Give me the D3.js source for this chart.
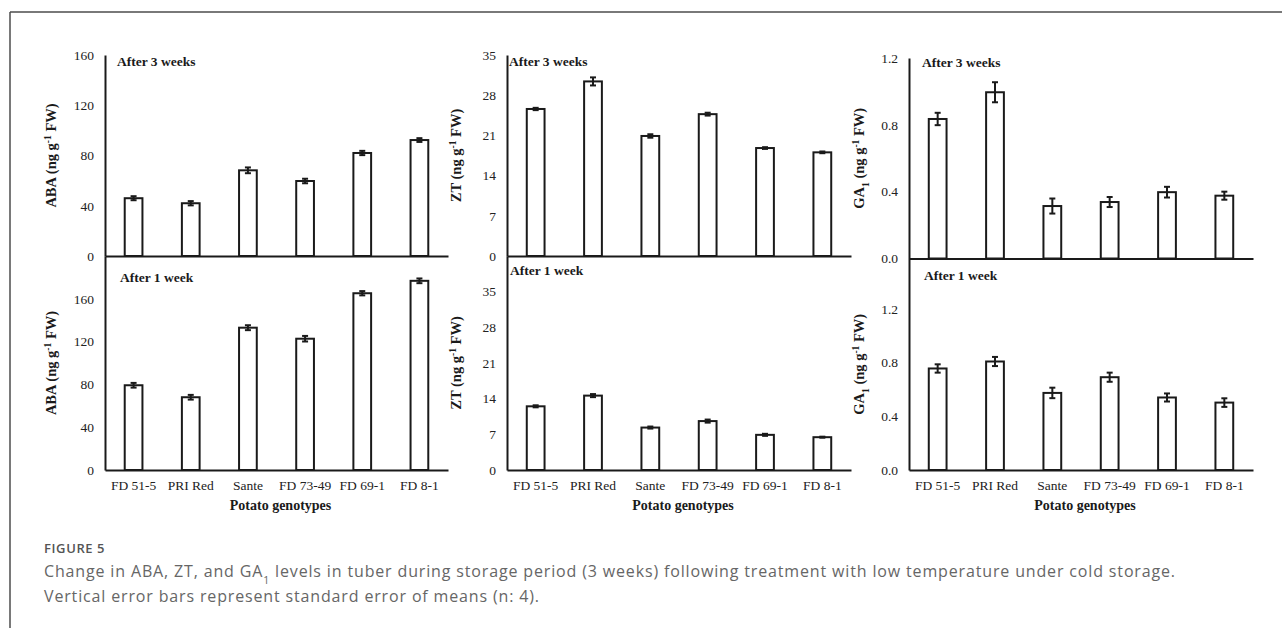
<!DOCTYPE html>
<html>
<head>
<meta charset="utf-8">
<script src="https://cdn.jsdelivr.net/npm/d3@7/dist/d3.min.js"></script>
<style>
  html, body { margin: 0; padding: 0; background: #fff; }
  svg { display: block; }
</style>
</head>
<body>
<svg id="chart" width="1282" height="628"></svg>
<script>
// ---------------- DATA ----------------
const genotypes = ["FD 51-5", "PRI Red", "Sante", "FD 73-49", "FD 69-1", "FD 8-1"];

const abaWeek3 = [46, 42, 68.2, 59.7, 82, 92.3];
const abaWeek3Err = [1.6, 1.7, 2.3, 1.8, 1.7, 1.5];
const abaWeek1 = [79.2, 68, 133, 122.7, 165.2, 176.8];
const abaWeek1Err = [2.2, 2.2, 2.3, 2.6, 2.0, 2.2];

const ztWeek3 = [25.6, 30.4, 20.9, 24.7, 18.8, 18.05];
const ztWeek3Err = [0.2, 0.7, 0.3, 0.25, 0.15, 0.15];
const ztWeek1 = [12.5, 14.6, 8.33, 9.6, 6.9, 6.44];
const ztWeek1Err = [0.2, 0.3, 0.2, 0.3, 0.2, 0.1];

const ga1Week3 = [0.835, 0.995, 0.314, 0.338, 0.397, 0.376];
const ga1Week3Err = [0.037, 0.06, 0.045, 0.03, 0.032, 0.024];
const ga1Week1 = [0.756, 0.808, 0.574, 0.691, 0.54, 0.502];
const ga1Week1Err = [0.031, 0.034, 0.039, 0.034, 0.03, 0.032];

const abaTicks = [0, 40, 80, 120, 160];
const ztTicks = [0, 7, 14, 21, 28, 35];
const ga1Ticks = [0, 0.4, 0.8, 1.2];
const abaMaxTop = 160, abaMaxBottom = 200;
const ztMaxTop = 35, ztMaxBottom = 42;
const ga1MaxTop = 1.2, ga1MaxBottom = 1.575;

const periodLabels = ["After 3 weeks", "After 1 week"];
const xAxisTitle = "Potato genotypes";

// ---------------- LAYOUT ----------------
const svg = d3.select("#chart");
const serif = "'Liberation Serif', 'Times New Roman', serif";
const ink = "#1a1a1a";

// frame
svg.append("line").attr("x1", 10).attr("x2", 1282).attr("y1", 12).attr("y2", 12)
  .attr("stroke", "#4d4d4d").attr("stroke-width", 1.5);
svg.append("line").attr("x1", 10).attr("x2", 10).attr("y1", 12).attr("y2", 628)
  .attr("stroke", "#4d4d4d").attr("stroke-width", 1.5);

const panels = [
  { name: "ABA", sub: false, x0: 105, x1: 448, top: 55, mid: 256, bottom: 470,
    top3: abaWeek3, top3Err: abaWeek3Err, bot1: abaWeek1, bot1Err: abaWeek1Err,
    ticks: abaTicks, maxTop: abaMaxTop, maxBottom: abaMaxBottom, fmt: d3.format("d"),
    labelX: 56, tagX: [117, 120], tagY: [66, 282] },
  { name: "ZT", sub: false, x0: 507, x1: 851, top: 55, mid: 256, bottom: 470,
    top3: ztWeek3, top3Err: ztWeek3Err, bot1: ztWeek1, bot1Err: ztWeek1Err,
    ticks: ztTicks, maxTop: ztMaxTop, maxBottom: ztMaxBottom, fmt: d3.format("d"),
    labelX: 461, tagX: [509, 510], tagY: [66, 275] },
  { name: "GA", sub: true, x0: 909, x1: 1253, top: 58, mid: 258.5, bottom: 470,
    top3: ga1Week3, top3Err: ga1Week3Err, bot1: ga1Week1, bot1Err: ga1Week1Err,
    ticks: ga1Ticks, maxTop: ga1MaxTop, maxBottom: ga1MaxBottom, fmt: d3.format(".1f"),
    labelX: 864, tagX: [922, 924], tagY: [67, 280] }
];

function yLabel(g, p, cy) {
  const t = g.append("text")
    .attr("transform", `translate(${p.labelX},${cy}) rotate(-90)`)
    .attr("text-anchor", "middle")
    .attr("font-family", serif).attr("font-weight", "bold").attr("font-size", 14.5)
    .attr("fill", ink);
  t.append("tspan").text(p.name);
  if (p.sub) t.append("tspan").attr("font-size", 9.5).attr("baseline-shift", "sub").text("1");
  t.append("tspan").text(" (ng g");
  t.append("tspan").attr("font-size", 9.5).attr("baseline-shift", "super").text("-1");
  t.append("tspan").text(" FW)");
}

function drawBars(g, x, y, vals, errs) {
  const bw = x.bandwidth();
  g.selectAll("rect.bar").data(vals).join("rect").attr("class", "bar")
    .attr("x", (d, i) => x(genotypes[i]))
    .attr("y", d => y(d))
    .attr("width", bw)
    .attr("height", d => y(0) - y(d))
    .attr("fill", "#fff").attr("stroke", ink).attr("stroke-width", 2);
  const cap = 3;
  const eg = g.selectAll("g.err").data(vals).join("g").attr("class", "err")
    .attr("stroke", ink).attr("stroke-width", 2);
  eg.append("line")
    .attr("x1", (d, i) => x(genotypes[i]) + bw / 2).attr("x2", (d, i) => x(genotypes[i]) + bw / 2)
    .attr("y1", (d, i) => y(d + errs[i])).attr("y2", (d, i) => y(d - errs[i]));
  eg.append("line")
    .attr("x1", (d, i) => x(genotypes[i]) + bw / 2 - cap).attr("x2", (d, i) => x(genotypes[i]) + bw / 2 + cap)
    .attr("y1", (d, i) => y(d + errs[i])).attr("y2", (d, i) => y(d + errs[i]));
  eg.append("line")
    .attr("x1", (d, i) => x(genotypes[i]) + bw / 2 - cap).attr("x2", (d, i) => x(genotypes[i]) + bw / 2 + cap)
    .attr("y1", (d, i) => y(d - errs[i])).attr("y2", (d, i) => y(d - errs[i]));
}

function styleAxis(ax) {
  ax.select(".domain").attr("stroke", ink).attr("stroke-width", 2);
  ax.selectAll("text").attr("font-family", serif).attr("font-size", 13.5).attr("fill", "#222");
}

panels.forEach(p => {
  const g = svg.append("g");
  const x = d3.scaleBand().domain(genotypes).range([p.x0, p.x1])
    .paddingInner(0.69).paddingOuter(0.345);

  const yTop = d3.scaleLinear().domain([0, p.maxTop]).range([p.mid, p.top]);
  const yBot = d3.scaleLinear().domain([0, p.maxBottom]).range([p.bottom, p.mid]);

  drawBars(g.append("g"), x, yTop, p.top3, p.top3Err);
  drawBars(g.append("g"), x, yBot, p.bot1, p.bot1Err);

  const ayT = g.append("g").attr("transform", `translate(${p.x0},0)`)
    .call(d3.axisLeft(yTop).tickValues(p.ticks).tickFormat(p.fmt).tickSize(0).tickPadding(11));
  styleAxis(ayT);
  const ayB = g.append("g").attr("transform", `translate(${p.x0},0)`)
    .call(d3.axisLeft(yBot).tickValues(p.ticks).tickFormat(p.fmt).tickSize(0).tickPadding(11));
  styleAxis(ayB);

  const axT = g.append("g").attr("transform", `translate(0,${p.mid})`)
    .call(d3.axisBottom(x).tickValues([]).tickSize(0).tickSizeOuter(0));
  styleAxis(axT);
  const axB = g.append("g").attr("transform", `translate(0,${p.bottom})`)
    .call(d3.axisBottom(x).tickSize(0).tickSizeOuter(0).tickPadding(10.5));
  styleAxis(axB);

  yLabel(g, p, (p.top + p.mid) / 2);
  yLabel(g, p, (p.mid + p.bottom) / 2);

  periodLabels.forEach((lab, i) => {
    g.append("text").attr("x", p.tagX[i]).attr("y", p.tagY[i])
      .attr("font-family", serif).attr("font-weight", "bold").attr("font-size", 13.5)
      .attr("fill", ink).text(lab);
  });

  g.append("text").attr("x", (p.x0 + p.x1) / 2 + 4).attr("y", 510)
    .attr("text-anchor", "middle")
    .attr("font-family", serif).attr("font-weight", "bold").attr("font-size", 14)
    .attr("fill", ink).text(xAxisTitle);
});

// ---------------- CAPTION ----------------
const capFont = "'Open Sans', 'Noto Sans', sans-serif";
svg.append("text").attr("x", 44).attr("y", 553)
  .attr("font-family", capFont).attr("font-weight", 600).attr("font-size", 13)
  .attr("letter-spacing", 0.6)
  .attr("fill", "#555").text("FIGURE 5");
const c1 = svg.append("text").attr("x", 44).attr("y", 577)
  .attr("font-family", capFont).attr("font-size", 16).attr("letter-spacing", 0.85).attr("fill", "#666");
c1.append("tspan").text("Change in ABA, ZT, and GA");
c1.append("tspan").attr("font-size", 10.5).attr("baseline-shift", "sub").text("1");
c1.append("tspan").text(" levels in tuber during storage period (3 weeks) following treatment with low temperature under cold storage.");
svg.append("text").attr("x", 44).attr("y", 602)
  .attr("font-family", capFont).attr("font-size", 16).attr("letter-spacing", 0.85).attr("fill", "#666")
  .text("Vertical error bars represent standard error of means (n: 4).");
</script>
</body>
</html>
